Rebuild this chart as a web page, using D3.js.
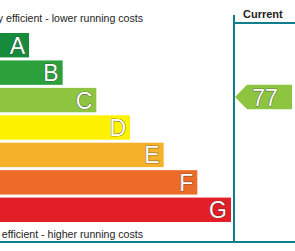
<!DOCTYPE html>
<html>
<head>
<meta charset="utf-8">
<script src="https://cdn.jsdelivr.net/npm/d3@7"></script>
<style>
body{margin:0;background:#fff;}
#canvas{width:295px;height:251px;}
text{font-family:"Liberation Sans",Arial,sans-serif;}
.band{fill:#fff;stroke:#333;stroke-width:0.7px;paint-order:stroke;font-size:23px;}
</style>
</head>
<body>
<div id="canvas"></div>
<script>
var bands = ['A','B','C','D','E','F','G'];
var bandColors = ['#178a3c','#2ca03a','#8dc540','#fff200','#f6b12b','#ec6b26','#e21f26'];
var bandSteps = [1,2,3,4,5,6,7];
var currentScore = 77;
var currentBand = 'C';
var topLabel = 'Very energy efficient - lower running costs';
var bottomLabel = 'Not energy efficient - higher running costs';

var width = 295, height = 251;
var teal = '#137e8b';

var svg = d3.select('#canvas')
    .append('svg')
    .attr('width',width)
    .attr('height',height);

var y = d3.scaleBand().domain(bands).range([33,222]).paddingInner(0.11).paddingOuter(0);
var w = d3.scaleLinear().domain([1,7]).range([29,231]);

//bars
var bar = svg.selectAll('g.bar').data(bands).enter()
    .append('g').attr('class','bar')
    .attr('transform',function(d){return 'translate(0,'+y(d)+')';});

bar.append('rect')
    .attr('x',0)
    .attr('width',function(d,i){return w(bandSteps[i]);})
    .attr('height',y.bandwidth())
    .style('fill',function(d,i){return bandColors[i];});

bar.append('text').attr('class','band')
    .attr('x',function(d,i){return w(bandSteps[i])-4;})
    .attr('y',y.bandwidth()/2+8.5)
    .attr('text-anchor','end')
    .text(function(d){return d;});

//labels (cut at the left edge, as in the original)
svg.append('text')
    .attr('x',143).attr('y',22)
    .attr('text-anchor','end')
    .style('font-size','10.6px').style('fill','#222')
    .text(topLabel);

svg.append('text')
    .attr('x',143).attr('y',238)
    .attr('text-anchor','end')
    .style('font-size','10.6px').style('fill','#222')
    .text(bottomLabel);

//column lines
svg.append('line')
    .attr('x1',234).attr('x2',234).attr('y1',15).attr('y2',243)
    .style('stroke',teal).style('stroke-width','2px');
svg.append('line')
    .attr('x1',234).attr('x2',295).attr('y1',23).attr('y2',23)
    .style('stroke',teal).style('stroke-width','2px');
svg.append('line')
    .attr('x1',0).attr('x2',295).attr('y1',242).attr('y2',242)
    .style('stroke',teal).style('stroke-width','2px');

svg.append('text')
    .attr('x',243).attr('y',18)
    .style('font-size','11px').style('font-weight','bold').style('fill','#222')
    .text('Current');

//current arrow
var ci = bands.indexOf(currentBand);
var ay = y(currentBand) - 3, ah = y.bandwidth();
var arrow = d3.path();
arrow.moveTo(235, ay+ah/2);
arrow.lineTo(247, ay);
arrow.lineTo(292, ay);
arrow.lineTo(292, ay+ah);
arrow.lineTo(247, ay+ah);
arrow.closePath();
svg.append('path').attr('d',arrow.toString())
    .style('fill',bandColors[ci]);

svg.append('text').attr('class','band')
    .attr('x',265).attr('y',ay+ah/2+8.5)
    .attr('text-anchor','middle')
    .text(currentScore);
</script>
</body>
</html>
